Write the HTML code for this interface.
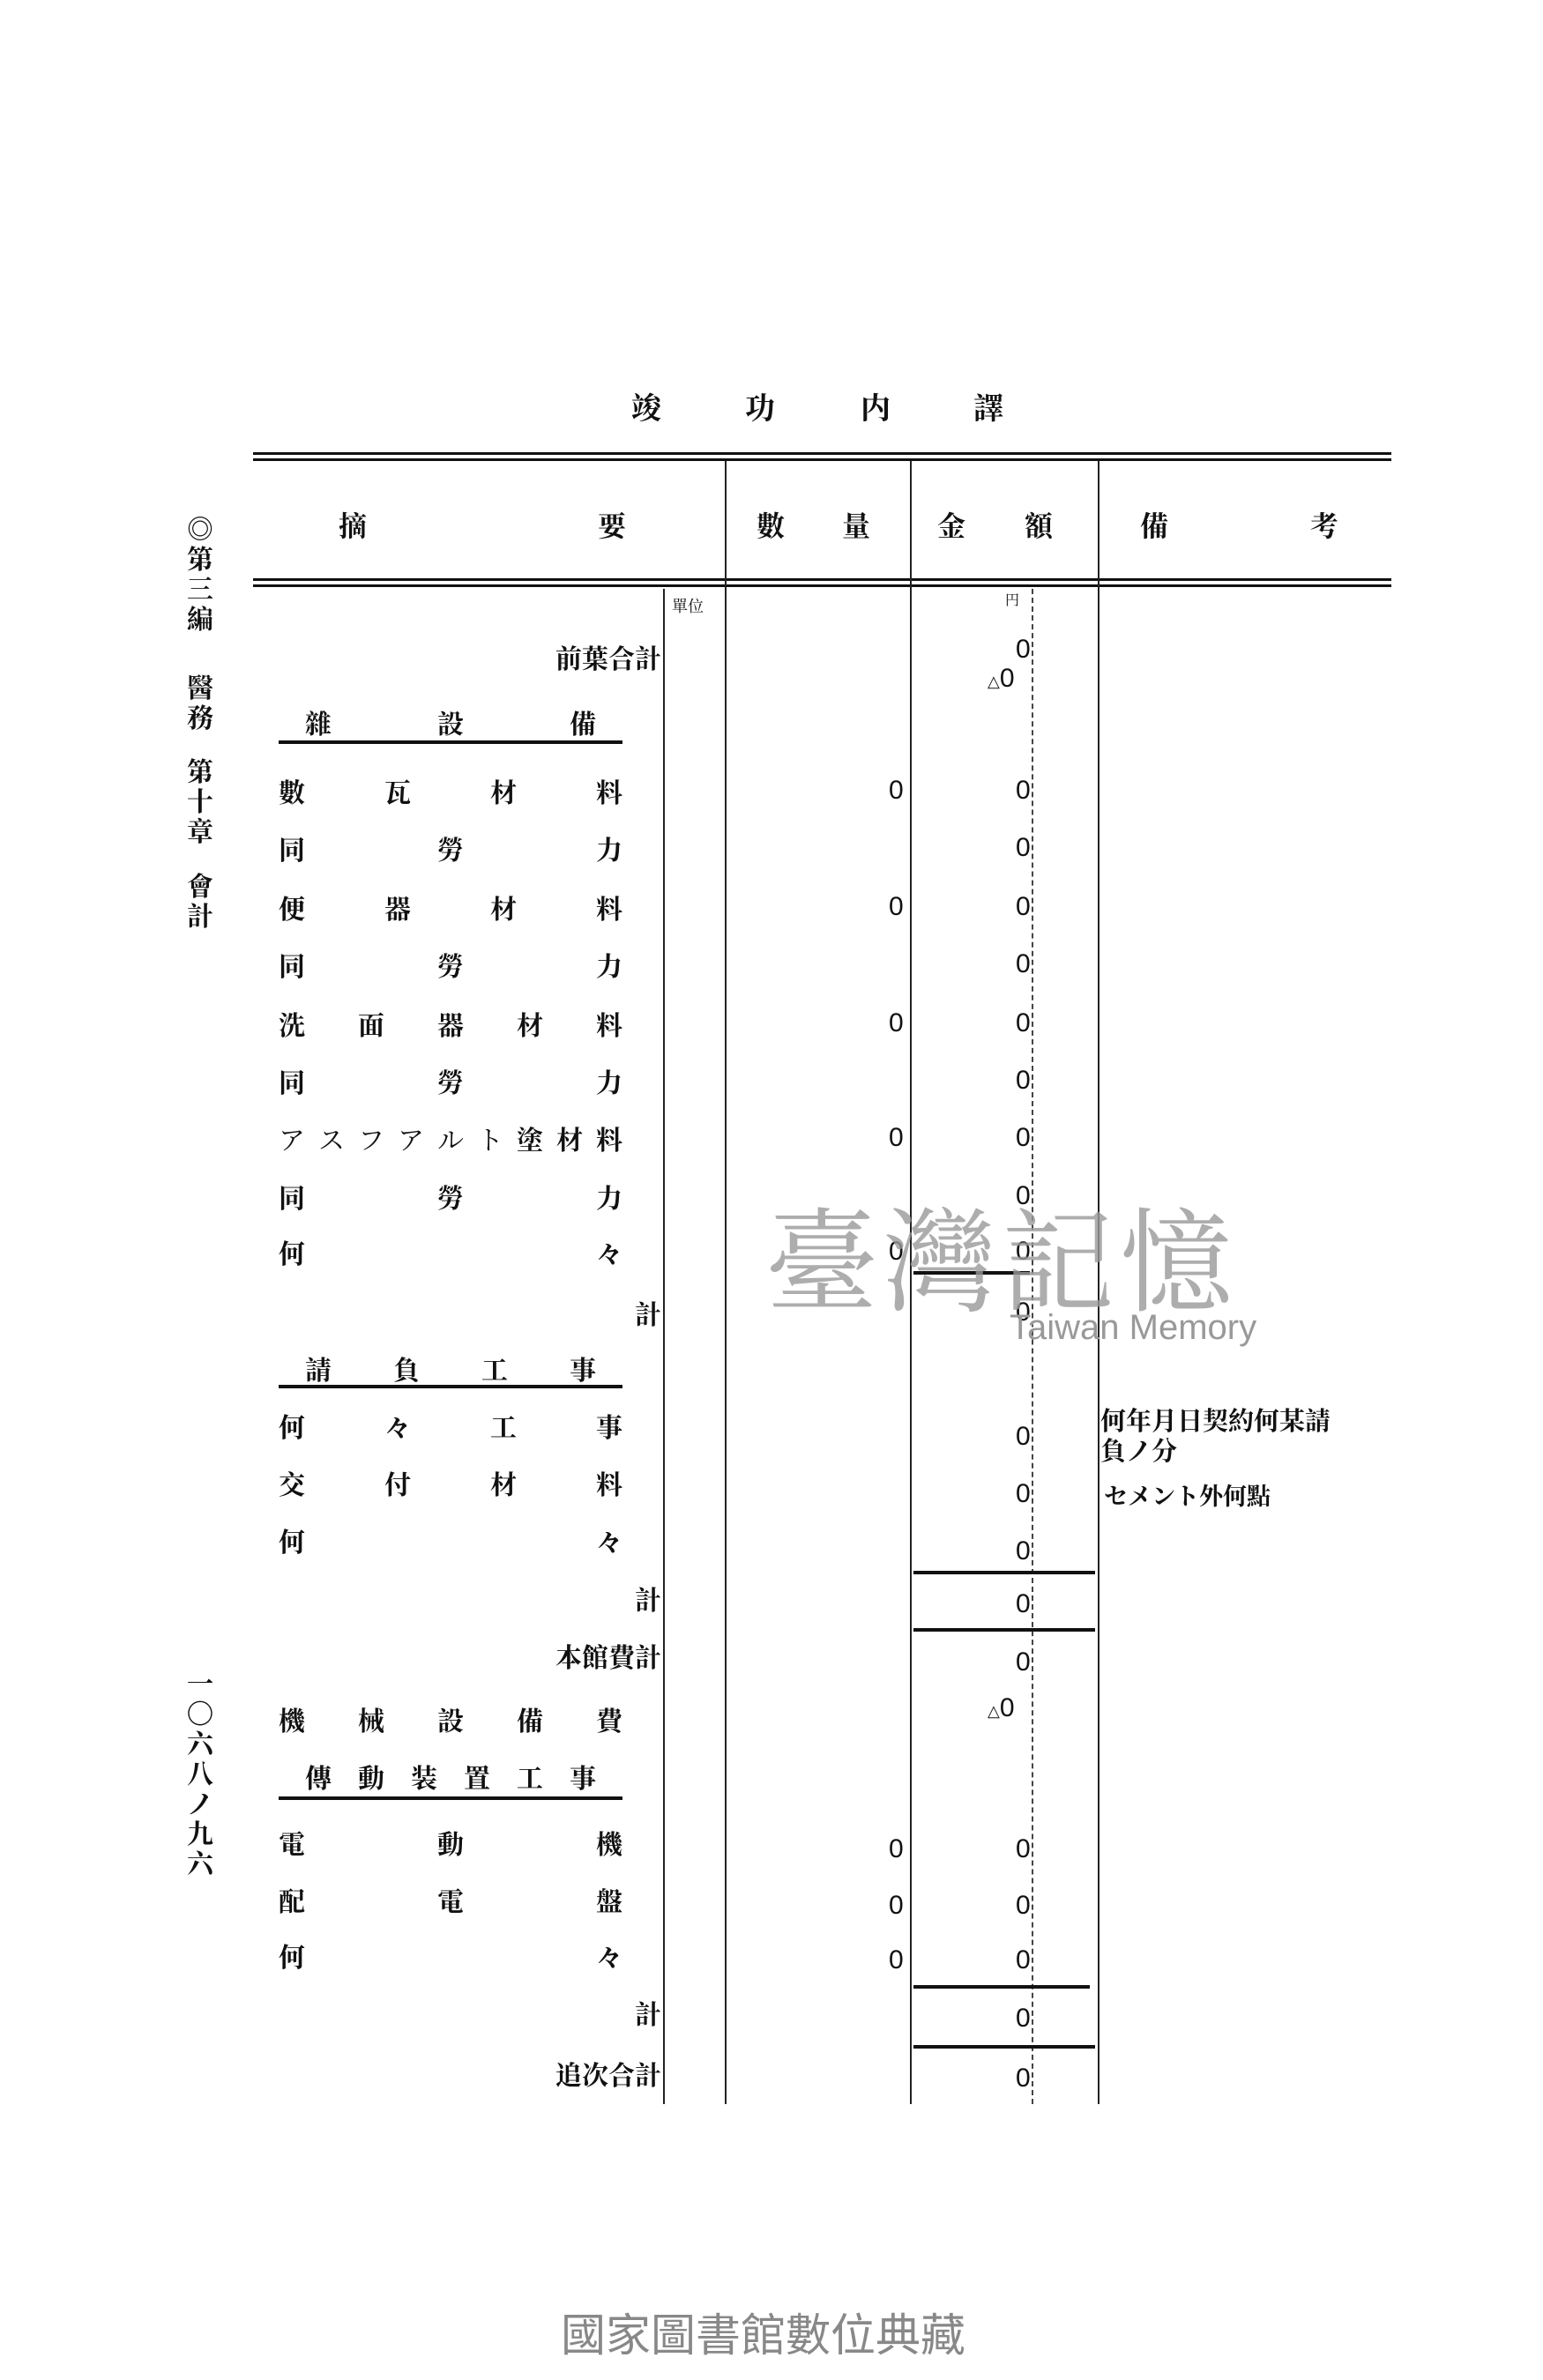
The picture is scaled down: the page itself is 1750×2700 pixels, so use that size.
<!DOCTYPE html>
<html><head><meta charset="utf-8">
<style>
body{margin:0;background:#fff;}
#p{position:relative;width:1750px;height:2700px;overflow:hidden;background:#fff;font-family:"Liberation Serif","Noto Serif CJK SC","Noto Sans CJK JP",serif;color:#111;font-weight:bold;}
.a{position:absolute;white-space:nowrap;}
.r{position:absolute;left:316px;width:390px;height:36px;line-height:36px;font-size:30px;display:flex;justify-content:space-between;}
.rt{position:absolute;right:1000px;height:36px;line-height:36px;font-size:30px;text-align:right;}
.q{position:absolute;left:1008px;font-size:30px;height:36px;line-height:36px;font-weight:normal;font-family:"Liberation Sans",sans-serif;}
.m{position:absolute;left:1152px;font-size:30px;height:36px;line-height:36px;font-weight:normal;font-family:"Liberation Sans",sans-serif;}
.h{position:absolute;background:#111;}
.v{position:absolute;background:#222;width:2px;}
.d{position:absolute;width:0;border-left:2px dashed #444;}
.ul{position:absolute;left:316px;width:390px;height:4px;background:#111;}
.vt{position:absolute;left:210px;width:34px;font-size:30px;line-height:34px;text-align:center;}
</style></head><body><div id="p">

<div class="a" style="left:716px;top:436px;font-size:34px">竣</div>
<div class="a" style="left:845px;top:436px;font-size:34px">功</div>
<div class="a" style="left:976px;top:436px;font-size:34px">内</div>
<div class="a" style="left:1104px;top:436px;font-size:34px">譯</div>

<div class="h" style="left:287px;top:513px;width:1291px;height:3px"></div>
<div class="h" style="left:287px;top:520px;width:1291px;height:3px"></div>
<div class="h" style="left:287px;top:656px;width:1291px;height:3px"></div>
<div class="h" style="left:287px;top:663px;width:1291px;height:3px"></div>

<div class="a" style="left:384px;top:572px;font-size:32px">摘</div>
<div class="a" style="left:678px;top:572px;font-size:32px">要</div>
<div class="a" style="left:858px;top:572px;font-size:32px">數</div>
<div class="a" style="left:955px;top:572px;font-size:32px">量</div>
<div class="a" style="left:1063px;top:572px;font-size:32px">金</div>
<div class="a" style="left:1162px;top:572px;font-size:32px">額</div>
<div class="a" style="left:1293px;top:572px;font-size:32px">備</div>
<div class="a" style="left:1486px;top:572px;font-size:32px">考</div>

<div class="v" style="left:822px;top:523px;height:1864px"></div>
<div class="v" style="left:1032px;top:523px;height:1864px"></div>
<div class="v" style="left:1245px;top:523px;height:1864px"></div>
<div class="v" style="left:752px;top:668px;height:1719px"></div>
<div class="d" style="left:1170px;top:668px;height:1719px"></div>

<div class="a" style="left:762px;top:674px;font-size:18px;font-weight:normal">單位</div>
<div class="a" style="left:1140px;top:668px;font-size:16px;font-weight:normal">円</div>

<div class="rt" style="top:731px">前葉合計</div>
<div class="m" style="top:719px">0</div>
<div class="m" style="top:752px;left:1120px"><span style="font-size:18px">△</span>0</div>

<div class="r" style="top:805px;padding:0 30px;width:330px"><span>雜</span><span>設</span><span>備</span></div>
<div class="ul" style="top:840px"></div>

<div class="r" style="top:883px"><span>數</span><span>瓦</span><span>材</span><span>料</span></div>
<div class="q" style="top:879px">0</div><div class="m" style="top:879px">0</div>
<div class="r" style="top:948px"><span>同</span><span>勞</span><span>力</span></div>
<div class="m" style="top:944px">0</div>
<div class="r" style="top:1015px"><span>便</span><span>器</span><span>材</span><span>料</span></div>
<div class="q" style="top:1011px">0</div><div class="m" style="top:1011px">0</div>
<div class="r" style="top:1080px"><span>同</span><span>勞</span><span>力</span></div>
<div class="m" style="top:1076px">0</div>
<div class="r" style="top:1147px"><span>洗</span><span>面</span><span>器</span><span>材</span><span>料</span></div>
<div class="q" style="top:1143px">0</div><div class="m" style="top:1143px">0</div>
<div class="r" style="top:1212px"><span>同</span><span>勞</span><span>力</span></div>
<div class="m" style="top:1208px">0</div>
<div class="r" style="top:1277px"><span style="font-weight:normal">ア</span><span style="font-weight:normal">ス</span><span style="font-weight:normal">フ</span><span style="font-weight:normal">ア</span><span style="font-weight:normal">ル</span><span style="font-weight:normal">ト</span><span>塗</span><span>材</span><span>料</span></div>
<div class="q" style="top:1273px">0</div><div class="m" style="top:1273px">0</div>
<div class="r" style="top:1343px"><span>同</span><span>勞</span><span>力</span></div>
<div class="m" style="top:1339px">0</div>
<div class="r" style="top:1406px"><span>何</span><span>々</span></div>
<div class="q" style="top:1402px">0</div><div class="m" style="top:1402px">0</div>
<div class="h" style="left:1036px;top:1442px;width:132px;height:4px"></div>
<div class="rt" style="top:1475px">計</div>
<div class="m" style="top:1471px">0</div>

<div class="r" style="top:1538px;padding:0 30px;width:330px"><span>請</span><span>負</span><span>工</span><span>事</span></div>
<div class="ul" style="top:1571px"></div>

<div class="r" style="top:1603px"><span>何</span><span>々</span><span>工</span><span>事</span></div>
<div class="m" style="top:1612px">0</div>
<div class="r" style="top:1668px"><span>交</span><span>付</span><span>材</span><span>料</span></div>
<div class="m" style="top:1677px">0</div>
<div class="r" style="top:1733px"><span>何</span><span>々</span></div>
<div class="m" style="top:1742px">0</div>
<div class="h" style="left:1036px;top:1782px;width:206px;height:4px"></div>
<div class="rt" style="top:1799px">計</div>
<div class="m" style="top:1802px">0</div>
<div class="h" style="left:1036px;top:1847px;width:206px;height:4px"></div>
<div class="rt" style="top:1864px">本館費計</div>
<div class="m" style="top:1868px">0</div>
<div class="r" style="top:1936px"><span>機</span><span>械</span><span>設</span><span>備</span><span>費</span></div>
<div class="m" style="top:1920px;left:1120px"><span style="font-size:18px">△</span>0</div>

<div class="r" style="top:2001px;padding:0 30px;width:330px"><span>傳</span><span>動</span><span>装</span><span>置</span><span>工</span><span>事</span></div>
<div class="ul" style="top:2038px"></div>

<div class="r" style="top:2076px"><span>電</span><span>動</span><span>機</span></div>
<div class="q" style="top:2080px">0</div><div class="m" style="top:2080px">0</div>
<div class="r" style="top:2141px"><span>配</span><span>電</span><span>盤</span></div>
<div class="q" style="top:2144px">0</div><div class="m" style="top:2144px">0</div>
<div class="r" style="top:2204px"><span>何</span><span>々</span></div>
<div class="q" style="top:2206px">0</div><div class="m" style="top:2206px">0</div>
<div class="h" style="left:1036px;top:2252px;width:200px;height:4px"></div>
<div class="rt" style="top:2269px">計</div>
<div class="m" style="top:2272px">0</div>
<div class="h" style="left:1036px;top:2320px;width:206px;height:4px"></div>
<div class="rt" style="top:2338px">追次合計</div>
<div class="m" style="top:2340px">0</div>

<div class="a" style="left:1248px;top:1596px;font-size:29px;line-height:34px">何年月日契約何某請<br>負ノ分</div>
<div class="a" style="left:1252px;top:1676px;font-size:27px">セメント外何點</div>

<div class="vt" style="top:585px">◎<br>第<br>三<br>編</div>
<div class="vt" style="top:765px">醫<br>務</div>
<div class="vt" style="top:860px">第<br>十<br>章</div>
<div class="vt" style="top:990px">會<br>計</div>
<div class="vt" style="top:1895px">一<br>〇<br>六<br>八<br>ノ<br>九<br>六</div>

<div class="a" style="left:868px;top:1330px;font-size:128px;color:#999;opacity:.8;font-family:'Noto Serif CJK SC',serif;font-weight:normal;letter-spacing:6px">臺灣記憶</div>
<div class="a" style="left:1145px;top:1484px;font-size:40px;color:#999;font-weight:normal;font-family:'Liberation Sans',sans-serif">Taiwan Memory</div>

<div class="a" style="left:636px;top:2608px;font-size:51px;color:#888;font-weight:normal;font-family:'Liberation Sans','Noto Sans CJK TC',sans-serif">國家圖書館數位典藏</div>
</div></body></html>
